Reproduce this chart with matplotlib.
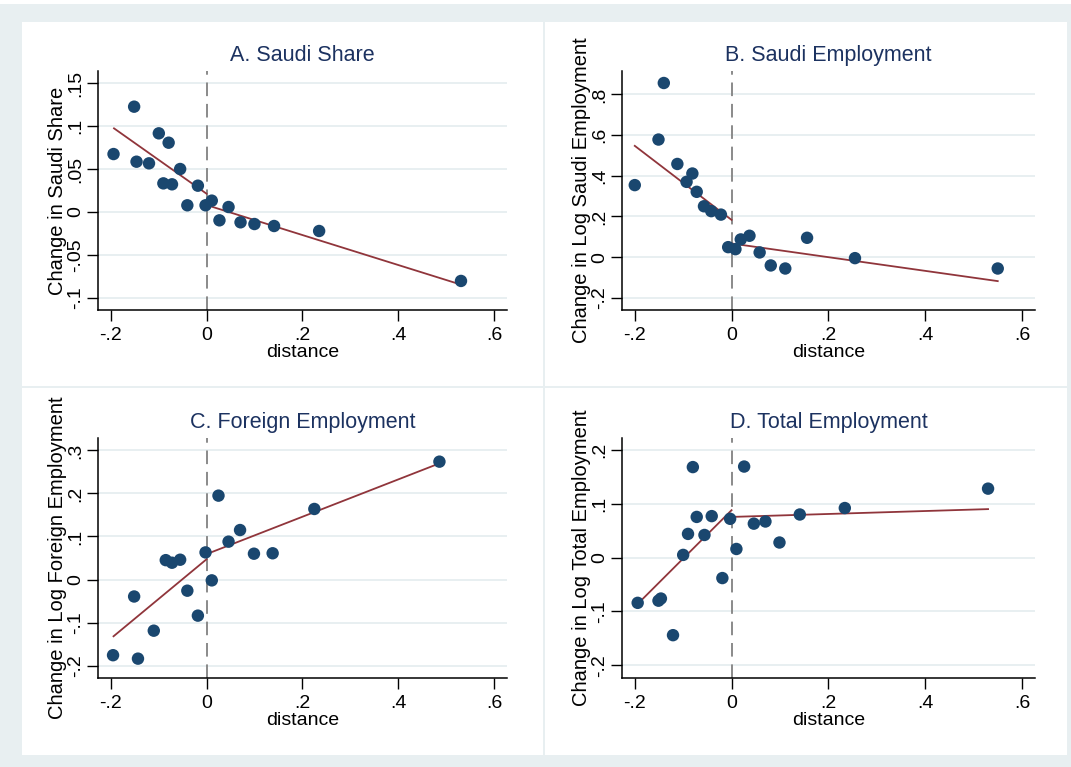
import matplotlib
matplotlib.use("Agg")
import matplotlib.pyplot as plt
from matplotlib.patches import Rectangle

plt.rcParams['font.family'] = ['Liberation Sans', 'DejaVu Sans']

# Данные
a_x = [-0.194, -0.151, -0.146, -0.120, -0.0995, -0.090, -0.079, -0.072, -0.055, -0.040,
       -0.018, -0.002, 0.011, 0.027, 0.046, 0.071, 0.100, 0.141, 0.235, 0.531]
a_y = [0.0674, 0.1225, 0.0585, 0.0566, 0.0915, 0.0333, 0.0806, 0.0322, 0.050, 0.0078,
       0.0306, 0.0078, 0.0132, -0.0097, 0.0058, -0.012, -0.014, -0.0163, -0.0221, -0.0802]
a_fit_left_x = [-0.193, 0.0]
a_fit_left_y = [0.0973, 0.0213]
a_fit_right_x = [0.0, 0.531]
a_fit_right_y = [0.0081, -0.0845]

b_x = [-0.200, -0.151, -0.140, -0.112, -0.093, -0.081, -0.072, -0.057, -0.042, -0.022,
       -0.007, 0.008, 0.019, 0.037, 0.058, 0.081, 0.111, 0.156, 0.255, 0.550]
b_y = [0.354, 0.578, 0.856, 0.458, 0.370, 0.411, 0.321, 0.250, 0.226, 0.209,
       0.049, 0.039, 0.087, 0.105, 0.023, -0.041, -0.056, 0.095, -0.005, -0.056]
b_fit_left_x = [-0.200, 0.0]
b_fit_left_y = [0.547, 0.183]
b_fit_right_x = [0.0, 0.550]
b_fit_right_y = [0.067, -0.118]

c_x = [-0.195, -0.151, -0.143, -0.110, -0.085, -0.072, -0.055, -0.040, -0.018, -0.002,
       0.011, 0.025, 0.046, 0.070, 0.099, 0.138, 0.225, 0.486]
c_y = [-0.176, -0.0395, -0.184, -0.119, 0.045, 0.039, 0.046, -0.026, -0.084, 0.063,
       -0.002, 0.195, 0.088, 0.115, 0.060, 0.061, 0.164, 0.274]
c_fit_left_x = [-0.194, 0.0]
c_fit_left_y = [-0.132, 0.047]
c_fit_right_x = [0.0, 0.486]
c_fit_right_y = [0.059, 0.270]

d_x = [-0.194, -0.151, -0.146, -0.121, -0.100, -0.090, -0.080, -0.072, -0.056, -0.041,
       -0.019, -0.003, 0.010, 0.026, 0.046, 0.070, 0.099, 0.141, 0.234, 0.530]
d_y = [-0.084, -0.080, -0.076, -0.144, 0.005, 0.044, 0.168, 0.0755, 0.042, 0.077,
       -0.038, 0.072, 0.016, 0.169, 0.063, 0.067, 0.028, 0.080, 0.092, 0.128]
d_fit_left_x = [-0.194, 0.0]
d_fit_left_y = [-0.086, 0.088]
d_fit_right_x = [0.0, 0.530]
d_fit_right_y = [0.0755, 0.090]

x_ticks = [-0.2, 0, 0.2, 0.4, 0.6]
x_labels = ['-.2', '0', '.2', '.4', '.6']

a_ticks = [-0.1, -0.05, 0, 0.05, 0.1, 0.15]
a_labels = ['-.1', '-.05', '0', '.05', '.1', '.15']
b_ticks = [-0.2, 0, 0.2, 0.4, 0.6, 0.8]
b_labels = ['-.2', '0', '.2', '.4', '.6', '.8']
c_ticks = [-0.2, -0.1, 0, 0.1, 0.2, 0.3]
c_labels = ['-.2', '-.1', '0', '.1', '.2', '.3']
d_ticks = [-0.2, -0.1, 0, 0.1, 0.2]
d_labels = ['-.2', '-.1', '0', '.1', '.2']

W, H = 1071, 767
navy = '#1a476f'
title_c = '#1c3260'
maroon = '#90353b'
bg = '#e8eff1'
gridc = '#e6eef0'

fig = plt.figure(figsize=(W / 100, H / 100), dpi=100, facecolor=bg)

# белая полоска сверху и белые панели (под осями)
fig.add_artist(Rectangle((0, 1 - 4 / H), 1, 4 / H, transform=fig.transFigure,
                         facecolor='white', edgecolor='none', zorder=-10))
for (x0, y0, x1, y1) in [(22, 22, 543, 386), (545, 22, 1067, 386),
                         (22, 388, 543, 755), (545, 388, 1067, 755)]:
    fig.add_artist(Rectangle((x0 / W, 1 - y1 / H), (x1 - x0) / W, (y1 - y0) / H,
                             transform=fig.transFigure, facecolor='white',
                             edgecolor='none', zorder=-10))


def panel(box, xs, ys, flx, fly, frx, fry, yticks, ylabels, ylim, title, ylabel):
    x0, y0, x1, y1 = box
    ax = fig.add_axes([x0 / W, 1 - y1 / H, (x1 - x0) / W, (y1 - y0) / H])
    ax.set_facecolor('white')
    ax.set_xlim(-0.2264, 0.627)
    ax.set_ylim(*ylim)
    for t in yticks:
        ax.axhline(t, color=gridc, lw=1.3, zorder=0)
    ax.axvline(0, color='#8a8a8a', lw=1.4, dashes=(7, 4), zorder=1)
    ax.plot(flx, fly, color=maroon, lw=1.3, zorder=2)
    ax.plot(frx, fry, color=maroon, lw=1.3, zorder=2)
    ax.scatter(xs, ys, s=80, color=navy, edgecolors='none', zorder=3)
    ax.set_xticks(x_ticks, x_labels)
    ax.set_yticks(yticks, ylabels)
    for lab in ax.get_yticklabels():
        lab.set_rotation(90)
        lab.set_va('center')
    ax.tick_params(axis='x', direction='out', length=8, width=1, labelsize=14, pad=4)
    ax.tick_params(axis='y', direction='out', length=8, width=1, labelsize=14, pad=2)
    ax.spines['top'].set_visible(False)
    ax.spines['right'].set_visible(False)
    ax.spines['left'].set_linewidth(1.1)
    ax.spines['bottom'].set_linewidth(1.1)
    ax.set_title(title, color=title_c, fontsize=15.5, pad=7)
    ax.set_xlabel('distance', fontsize=14, labelpad=0)
    ax.set_ylabel(ylabel, fontsize=14.5, labelpad=0)
    return ax


panel((98, 71, 507, 310), a_x, a_y, a_fit_left_x, a_fit_left_y, a_fit_right_x, a_fit_right_y,
      a_ticks, a_labels, (-0.114, 0.164), 'A. Saudi Share', 'Change in Saudi Share')
panel((622, 71, 1035, 310), b_x, b_y, b_fit_left_x, b_fit_left_y, b_fit_right_x, b_fit_right_y,
      b_ticks, b_labels, (-0.260, 0.915), 'B. Saudi Employment', 'Change in Log Saudi Employment')
panel((98, 438, 507, 678), c_x, c_y, c_fit_left_x, c_fit_left_y, c_fit_right_x, c_fit_right_y,
      c_ticks, c_labels, (-0.229, 0.329), 'C. Foreign Employment', 'Change in Log Foreign Employment')
panel((622, 438, 1035, 678), d_x, d_y, d_fit_left_x, d_fit_left_y, d_fit_right_x, d_fit_right_y,
      d_ticks, d_labels, (-0.2235, 0.222), 'D. Total Employment', 'Change in Log Total Employment')

plt.savefig('out.png', dpi=100, facecolor=bg)
